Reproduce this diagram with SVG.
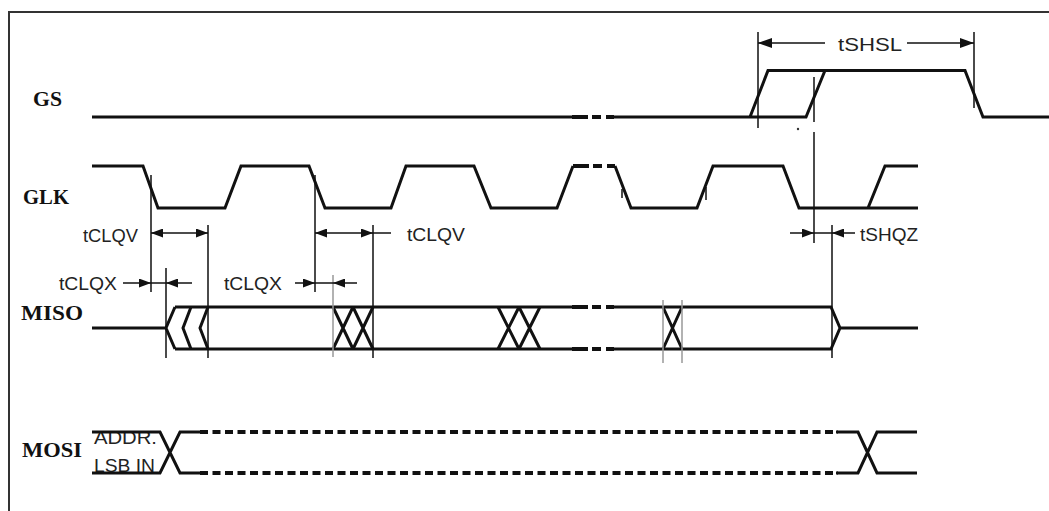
<svg xmlns="http://www.w3.org/2000/svg" width="1049" height="511" viewBox="0 0 1049 511">
<style>
.wave{fill:none;stroke:#111;stroke-width:3;stroke-linejoin:miter}
.dash{fill:none;stroke:#111;stroke-width:4;stroke-dasharray:16 4 9 5 8 20}
.mdash{fill:none;stroke:#111;stroke-width:4;stroke-dasharray:8 4.5}
.ref{fill:none;stroke:#111;stroke-width:1.5}
.grey{fill:none;stroke:#999;stroke-width:1.5}
.dim{fill:none;stroke:#111;stroke-width:1.5}
.sig{font-family:"Liberation Serif","DejaVu Serif",serif;font-weight:bold;font-size:21px;fill:#111}
.lbl{font-family:"Liberation Sans",Arial,sans-serif;font-size:18px;fill:#222}
</style>
<defs>
<marker id="ah" markerUnits="userSpaceOnUse" markerWidth="13" markerHeight="9" refX="12" refY="4.5" orient="auto-start-reverse">
<path d="M0,0 L12,4.5 L0,9 Z" fill="#111"/>
</marker>
<marker id="ahL" markerUnits="userSpaceOnUse" markerWidth="15" markerHeight="10" refX="14" refY="5" orient="auto-start-reverse">
<path d="M0,0 L14,5 L0,10 Z" fill="#111"/>
</marker>
</defs>
<rect width="1049" height="511" fill="#fff"/>
<g id="frame">
<path d="M9,511 V12 H1049" fill="none" stroke="#333" stroke-width="2"/>
</g>
<g id="cs">
<text class="sig" x="33" y="106" font-size="22" textLength="29" lengthAdjust="spacingAndGlyphs">GS</text>
<path class="wave" d="M92,117 H573"/>
<path class="dash" d="M572,117 H614"/>
<path class="wave" d="M613,117 H806 L825,70.5 M750,117 L768,70.5 H965 L983,117 H1049"/>
</g>
<g id="clk">
<text class="sig" x="23" y="204" textLength="46" lengthAdjust="spacingAndGlyphs">GLK</text>
<path class="wave" d="M92,166 H143 L158,208 H225 L241,166 H309 L325,208 H391 L406,166 H474 L491,208 H557 L573,166"/>
<path class="dash" d="M573,166 H615"/>
<path class="wave" d="M615,166 L631,208 H697 L713,166 H783 L799,208 H918 M868,208 L885,166 H918"/>
<path class="ref" d="M622,189 V198 M706,187 V200"/>
</g>
<g id="miso">
<text class="sig" x="21" y="320" font-size="20" textLength="62" lengthAdjust="spacingAndGlyphs">MISO</text>
<path class="wave" d="M92,328 H166 M175,307 L166,328 L175,349 M191,307 L183,328 L191,349 M208,307 L200,328 L208,349"/>
<path class="wave" d="M175,307 H573 M175,349 H573"/>
<path class="dash" d="M572,307 H615 M572,349 H615"/>
<path class="wave" d="M614,307 H831 L840,328 L831,349 H614 M840,328 H918"/>
<path class="wave" d="M333,307 L353,349 M333,349 L353,307 M353,307 L373,349 M353,349 L373,307"/>
<path class="wave" d="M498,307 L519,349 M498,349 L519,307 M519,307 L540,349 M519,349 L540,307"/>
<path class="wave" d="M663,307 L682,349 M663,349 L682,307"/>
</g>
<g id="mosi">
<text class="sig" x="22" y="457" font-size="20" textLength="60" lengthAdjust="spacingAndGlyphs">MOSI</text>
<text class="lbl" x="94" y="444" font-size="19" textLength="63" lengthAdjust="spacingAndGlyphs">ADDR.</text>
<text class="lbl" x="94" y="472" font-size="19" textLength="61" lengthAdjust="spacingAndGlyphs">LSB IN</text>
<path class="wave" d="M92,432 H160 L180,473 H201 M92,473 H160 L180,432 H201"/>
<path class="mdash" d="M200,432 H838 M200,473 H838"/>
<path class="wave" d="M836,432 H858 L877,473 H917 M836,473 H858 L877,432 H917"/>
</g>
<g id="connectors">
<path class="ref" d="M758,32 V128 M974,32 V108 M814,77 V122 M814,132 V243 M832,225 V358"/>
<path class="ref" d="M151,175 V292 M208,225 V358 M166,268 V358 M315,175 V292 M373,225 V358"/>
<path class="grey" d="M333,275 V357 M663,300 V363 M682,300 V363"/>
<circle cx="798" cy="129" r="1.2" fill="#333"/>
<line class="dim" x1="758" y1="43" x2="825" y2="43" marker-start="url(#ahL)"/>
<line class="dim" x1="907" y1="43" x2="974" y2="43" marker-end="url(#ahL)"/>
<line class="dim" x1="151" y1="233" x2="208" y2="233" marker-start="url(#ah)" marker-end="url(#ah)"/>
<line class="dim" x1="315" y1="233" x2="373" y2="233" marker-start="url(#ah)" marker-end="url(#ah)"/>
<line class="dim" x1="373" y1="233" x2="391" y2="233"/>
<line class="dim" x1="123" y1="283" x2="151" y2="283" marker-end="url(#ah)"/>
<line class="dim" x1="151" y1="283" x2="166" y2="283"/>
<line class="dim" x1="192" y1="283" x2="166" y2="283" marker-end="url(#ah)"/>
<line class="dim" x1="295" y1="283" x2="315" y2="283" marker-end="url(#ah)"/>
<line class="dim" x1="315" y1="283" x2="333" y2="283"/>
<line class="dim" x1="357" y1="283" x2="333" y2="283" marker-end="url(#ah)"/>
<line class="dim" x1="790" y1="233" x2="814" y2="233" marker-end="url(#ah)"/>
<line class="dim" x1="814" y1="233" x2="832" y2="233"/>
<line class="dim" x1="855" y1="233" x2="832" y2="233" marker-end="url(#ah)"/>
</g>
<g id="labels">
<text class="lbl" x="838" y="51" font-size="21" textLength="64" lengthAdjust="spacingAndGlyphs">tSHSL</text>
<text class="lbl" x="83" y="242" textLength="55" lengthAdjust="spacingAndGlyphs">tCLQV</text>
<text class="lbl" x="407" y="241" textLength="58" lengthAdjust="spacingAndGlyphs">tCLQV</text>
<text class="lbl" x="59" y="290" textLength="58" lengthAdjust="spacingAndGlyphs">tCLQX</text>
<text class="lbl" x="224" y="290" textLength="58" lengthAdjust="spacingAndGlyphs">tCLQX</text>
<text class="lbl" x="860" y="241" textLength="58" lengthAdjust="spacingAndGlyphs">tSHQZ</text>
</g>
</svg>
